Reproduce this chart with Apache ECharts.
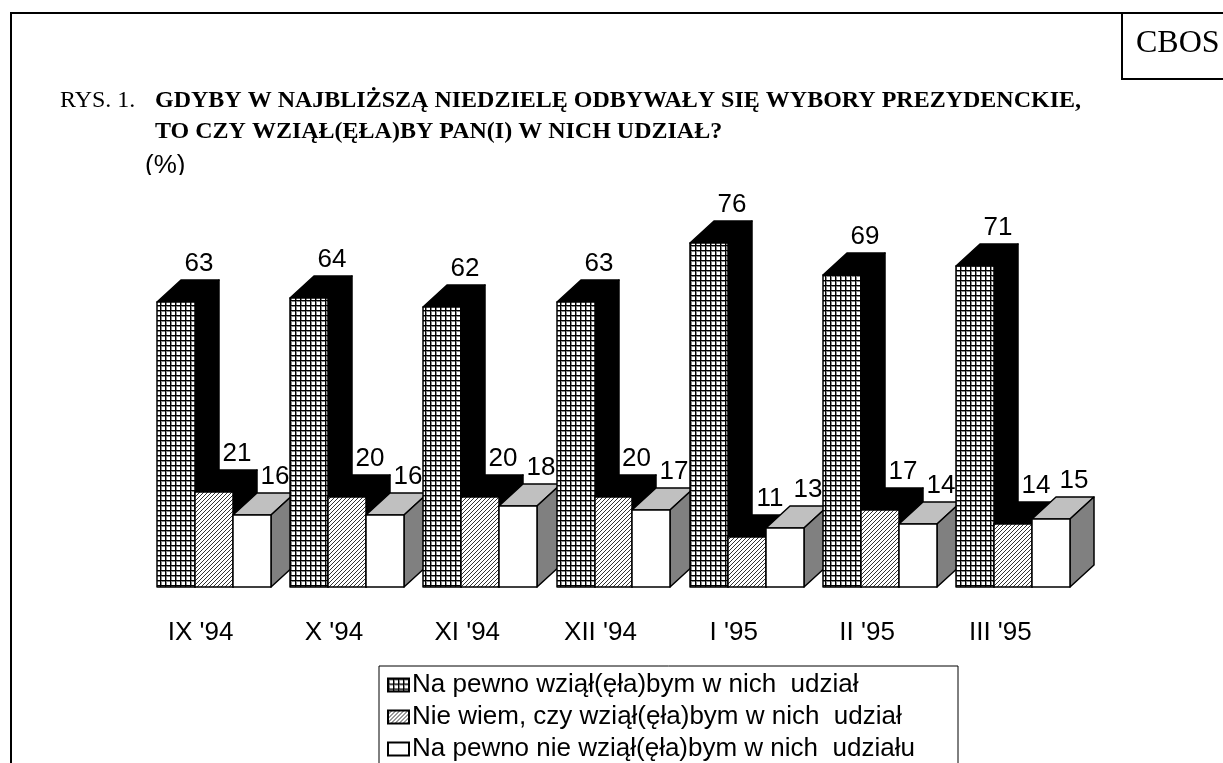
<!DOCTYPE html>
<html>
<head>
<meta charset="utf-8">
<title>RYS. 1</title>
<script src="https://cdn.jsdelivr.net/npm/echarts@6/dist/echarts.min.js"></script>
<style>
  html, body { margin: 0; padding: 0; background: #fff; }
  #chart { width: 1223px; height: 763px; }
</style>
</head>
<body>
<div id="chart"></div>
<script>
// dane
const categories = ["IX '94", "X '94", "XI '94", "XII '94", "I '95", "II '95", "III '95"];
const seriesNames = [
  'Na pewno wziął(ęła)bym w nich  udział',
  'Nie wiem, czy wziął(ęła)bym w nich  udział',
  'Na pewno nie wziął(ęła)bym w nich  udziału'
];
const pewnoTak = [63, 64, 62, 63, 76, 69, 71];
const nieWiem = [21, 20, 20, 20, 11, 17, 14];
const pewnoNie = [16, 16, 18, 17, 13, 14, 15];

const SANS = '"Liberation Sans", Arial, sans-serif';
const SERIF = '"Liberation Serif", "Times New Roman", serif';

// wzory wypełnienia słupków
const gridPattern = () => {
  const c = document.createElement('canvas');
  c.width = 5; c.height = 5;
  const ctx = c.getContext('2d');
  ctx.fillStyle = '#fff';
  ctx.fillRect(0, 0, 5, 5);
  ctx.fillStyle = '#888';
  ctx.fillRect(0, 1, 5, 1);
  ctx.fillRect(1, 0, 1, 5);
  ctx.fillStyle = '#000';
  ctx.fillRect(0, 0, 5, 1);
  ctx.fillRect(0, 0, 1, 5);
  return { image: c, repeat: 'repeat' };
};
const hatchPattern = () => {
  const c = document.createElement('canvas');
  c.width = 4; c.height = 4;
  const ctx = c.getContext('2d');
  ctx.fillStyle = '#fff';
  ctx.fillRect(0, 0, 4, 4);
  ctx.strokeStyle = '#333';
  ctx.lineWidth = 1;
  ctx.beginPath();
  ctx.moveTo(-1, 5); ctx.lineTo(5, -1);
  ctx.moveTo(-1, 1); ctx.lineTo(1, -1);
  ctx.moveTo(3, 5); ctx.lineTo(5, 3);
  ctx.stroke();
  return { image: c, repeat: 'repeat' };
};

const DEPTH_X = 24;
const DEPTH_Y = 22;
const BAR_RATIO = 0.285;

// słupek 3D: przód, góra i bok
const cube = (seriesIndex, front, topColor, sideColor) => (params, api) => {
  const idx = api.value(0);
  const val = api.value(1);
  const p = api.coord([idx, val]);
  const b = api.coord([idx, 0]);
  const w = api.size([1, 0])[0] * BAR_RATIO;
  const x = Math.round(p[0] + (seriesIndex - 1.5) * w);
  const x2 = Math.round(p[0] + (seriesIndex - 0.5) * w);
  const y = Math.round(p[1]);
  const y0 = Math.round(b[1]);
  const z2 = idx * 3 + seriesIndex;
  const edge = { stroke: '#000', lineWidth: 1.5, lineJoin: 'round' };
  return {
    type: 'group',
    children: [
      {
        type: 'polygon', z2: z2,
        shape: { points: [[x, y], [x + DEPTH_X, y - DEPTH_Y], [x2 + DEPTH_X, y - DEPTH_Y], [x2, y]] },
        style: { fill: topColor, ...edge }
      },
      {
        type: 'polygon', z2: z2,
        shape: { points: [[x2, y], [x2 + DEPTH_X, y - DEPTH_Y], [x2 + DEPTH_X, y0 - DEPTH_Y], [x2, y0]] },
        style: { fill: sideColor, ...edge }
      },
      {
        type: 'rect', z2: z2,
        shape: { x: x, y: y, width: x2 - x, height: y0 - y },
        style: { fill: front, ...edge }
      },
      {
        type: 'text', z2: 100,
        x: (x + x2) / 2 + DEPTH_X - 1,
        y: y - DEPTH_Y - 16,
        style: {
          text: String(val), fill: '#000', font: '26px ' + SANS,
          align: 'center', verticalAlign: 'middle'
        }
      }
    ]
  };
};

const toPairs = (arr) => arr.map((v, i) => [i, v]);
const makeSeries = (name, arr, index, front, topColor, sideColor) => ({
  name: name,
  type: 'custom',
  silent: true,
  clip: false,
  encode: { x: 0, y: 1 },
  itemStyle: { color: front, borderColor: '#000', borderWidth: 1 },
  renderItem: cube(index, front, topColor, sideColor),
  data: toPairs(arr)
});

const line = (x1, y1, x2, y2) => ({
  type: 'line',
  silent: true,
  shape: { x1, y1, x2, y2 },
  style: { stroke: '#000', lineWidth: 2 }
});
const label = (text, x, y, font) => ({
  type: 'text',
  silent: true,
  x, y,
  style: { text, font, fill: '#000', textVerticalAlign: 'middle' }
});

const chart = echarts.init(document.getElementById('chart'));
const option = {
  animation: false,
  grid: { left: 147, top: 135, width: 933, height: 452 },
  xAxis: {
    type: 'category',
    data: categories,
    axisLine: { show: false },
    axisTick: { show: false },
    axisLabel: {
      interval: 0,
      margin: 33,
      padding: [0, 26, 0, 0],
      color: '#000',
      fontSize: 26,
      fontFamily: SANS
    }
  },
  yAxis: { type: 'value', min: 0, max: 100, show: false },
  legend: {
    orient: 'vertical',
    left: 387,
    top: 672,
    height: 120,
    padding: 0,
    itemWidth: 21,
    itemHeight: 13,
    itemGap: 6,
    selectedMode: false,
    icon: 'rect',
    data: seriesNames,
    textStyle: { color: '#000', fontSize: 26, fontFamily: SANS, lineHeight: 24, padding: [0, 0, 0, -2] }
  },
  graphic: [
    line(11, 13, 1223, 13),
    line(11, 12, 11, 763),
    line(1122, 12, 1122, 79),
    line(1121, 79, 1223, 79),
    {
      type: 'rect', silent: true,
      shape: { x: 379, y: 666, width: 579, height: 110 },
      style: { fill: 'none', stroke: '#000', lineWidth: 1 }
    },
    label('CBOS', 1136, 44, '32px ' + SERIF),
    label('RYS. 1.', 60, 101, '24px ' + SERIF),
    label('GDYBY W NAJBLIŻSZĄ NIEDZIELĘ ODBYWAŁY SIĘ WYBORY PREZYDENCKIE,', 155, 101, 'bold 24px ' + SERIF),
    label('TO CZY WZIĄŁ(ĘŁA)BY PAN(I) W NICH UDZIAŁ?', 155, 132, 'bold 24px ' + SERIF),
    label('(%)', 145, 166, '26px ' + SANS),
    {
      type: 'rect', silent: true, z: 10,
      shape: { x: 140, y: 175, width: 50, height: 6 },
      style: { fill: '#fff' }
    }
  ],
  series: [
    makeSeries(seriesNames[0], pewnoTak, 0, gridPattern(), '#000', '#000'),
    makeSeries(seriesNames[1], nieWiem, 1, hatchPattern(), '#000', '#000'),
    makeSeries(seriesNames[2], pewnoNie, 2, '#fff', '#c0c0c0', '#808080')
  ]
};
chart.setOption(option);
</script>
</body>
</html>
